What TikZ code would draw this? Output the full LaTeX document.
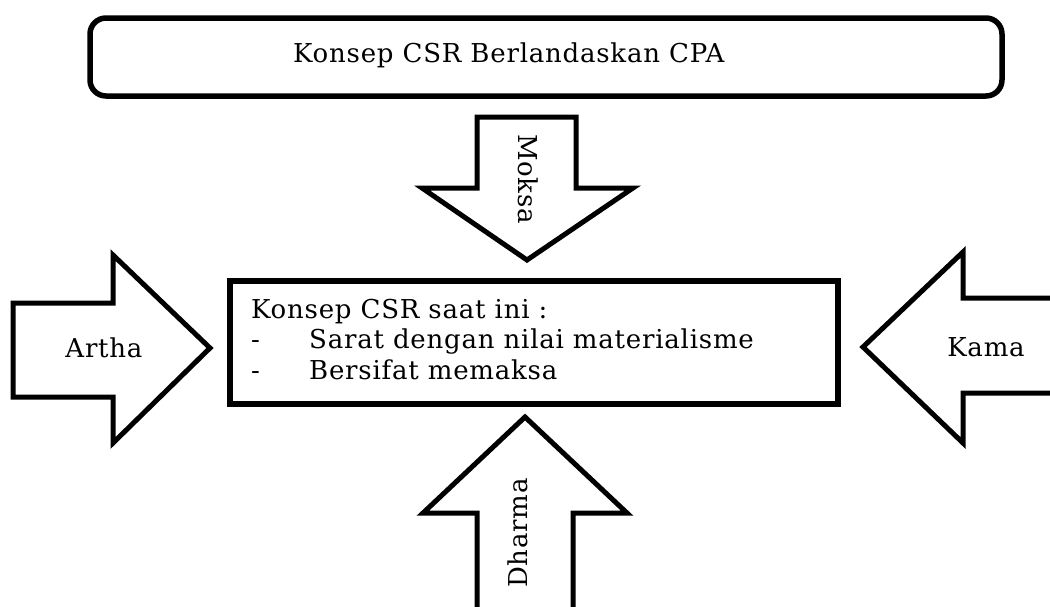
\documentclass[tikz,border=0pt]{standalone}
\usepackage{fontspec}
\setmainfont{DejaVu Serif}[LetterSpace=3]
\begin{document}
\begin{tikzpicture}[x=1pt,y=-1pt,
  boxline/.style={draw=black,line width=5.5pt},
  arrowline/.style={draw=black,line width=5pt,line join=miter},
  lbl/.style={inner sep=0pt,font=\fontsize{26}{31}\selectfont},
]
\useasboundingbox (0,0) rectangle (1050,606);
% top box
\draw[boxline,rounded corners=16pt] (90,18) rectangle (1002,96);
\node[lbl,anchor=base west] (top) at (293,62) {Konsep CSR Berlandaskan CPA};
% middle box
\draw[draw=black,line width=6pt] (230,281) rectangle (838,404);
\node[lbl,anchor=base west] (m1) at (251,318) {Konsep CSR saat ini :};
\node[lbl,anchor=base west] (d1) at (251,348) {-};
\node[lbl,anchor=base west] (m2) at (309,348) {Sarat dengan nilai materialisme};
\node[lbl,anchor=base west] (d2) at (251,379) {-};
\node[lbl,anchor=base west] (m3) at (309,379) {Bersifat memaksa};
% Moksa arrow (down)
\draw[arrowline] (477,117) -- (576,117) -- (576,188) -- (633,188) -- (527,260) -- (422,188) -- (477,188) -- cycle;
\node[lbl,rotate=-90] (moksa) at (528,179) {Moksa};
% Artha arrow (right)
\draw[arrowline] (13,303) -- (113,303) -- (113,255) -- (210,348) -- (113,443) -- (113,397) -- (13,397) -- cycle;
\node[lbl] (artha) at (104,348) {Artha};
% Kama arrow (left)
\draw[arrowline] (1060,298) -- (963,298) -- (963,252) -- (863,347) -- (963,443) -- (963,393) -- (1060,393);
\node[lbl] (kama) at (986,347) {Kama};
% Dharma arrow (up)
\draw[arrowline] (477,615) -- (477,513) -- (423,513) -- (525,417) -- (627,513) -- (573,513) -- (573,615);
\node[lbl,rotate=90] (dharma) at (518,533) {Dharma};
\end{tikzpicture}
\end{document}
